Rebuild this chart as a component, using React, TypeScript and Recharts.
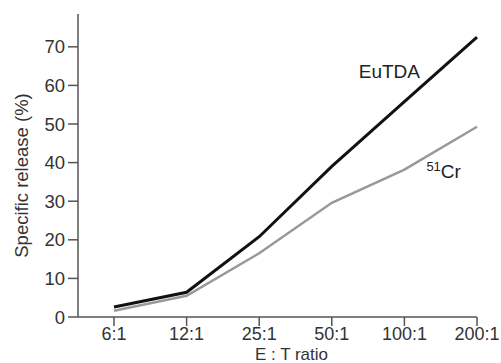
import { LineChart, Line, XAxis, YAxis } from 'recharts';

const ratios = ['6:1', '12:1', '25:1', '50:1', '100:1', '200:1'];
const euTDA = [2.6, 6.4, 20.8, 39, 55.8, 72.5];
const cr51 = [1.6, 5.5, 16.5, 29.6, 38.2, 49.3];
const yTicks = [0, 10, 20, 30, 40, 50, 60, 70];

const data = ratios.map((r, i) => ({ ratio: r, eu: euTDA[i], cr: cr51[i] }));

const FONT = '"Liberation Sans", Arial, sans-serif';
const AXIS = '#555';

const EuLabel = (props: any) => {
  if (props.index !== 4) return <g />;
  return (
    <text x={props.x - 15} y={props.y - 24} textAnchor="middle" fontSize={19} fill="#222" fontFamily={FONT}>
      EuTDA
    </text>
  );
};

const CrLabel = (props: any) => {
  if (props.index !== 4) return <g />;
  return (
    <text x={props.x + 22} y={props.y + 8} fontSize={19} fill="#222" fontFamily={FONT}>
      <tspan fontSize={13} dy={-7}>51</tspan>
      <tspan dy={7}>Cr</tspan>
    </text>
  );
};

const YTitle = ({ viewBox }: any) => (
  <text
    transform={`translate(${viewBox.x + 21},${viewBox.y + viewBox.height / 2 + 10}) rotate(-90)`}
    textAnchor="middle"
    dominantBaseline="central"
    fontSize={18.5}
    fill="#333"
    fontFamily={FONT}
  >
    Specific release (%)
  </text>
);

const XTitle = ({ viewBox }: any) => (
  <text x={viewBox.x + viewBox.width / 2 + 14} y={viewBox.y + 43} textAnchor="middle" fontSize={17} fill="#333" fontFamily={FONT}>
    E : T ratio
  </text>
);

export default function App() {
  return (
    <div style={{ position: 'absolute', left: 0, top: 0, width: 501, height: 363, background: '#fff' }}>
      <LineChart width={501} height={363} data={data} margin={{ top: 14, right: 24, bottom: 0, left: 0 }}>
        <XAxis
          dataKey="ratio"
          height={46}
          padding={{ left: 36, right: 0 }}
          stroke={AXIS}
          strokeWidth={1.5}
          tickSize={9}
          tickMargin={1}
          tick={{ fill: '#333', fontSize: 18, fontFamily: FONT }}
          label={<XTitle />}
        />
        <YAxis
          width={78}
          domain={[0, 78.5]}
          ticks={yTicks}
          stroke={AXIS}
          strokeWidth={1.5}
          tickSize={10}
          tickMargin={3}
          tick={{ fill: '#333', fontSize: 18.5, fontFamily: FONT }}
          label={<YTitle />}
        />
        <Line dataKey="cr" stroke="#999" strokeWidth={2.5} dot={false} isAnimationActive={false} label={<CrLabel />} />
        <Line dataKey="eu" stroke="#111" strokeWidth={3} dot={false} isAnimationActive={false} label={<EuLabel />} />
      </LineChart>
    </div>
  );
}
